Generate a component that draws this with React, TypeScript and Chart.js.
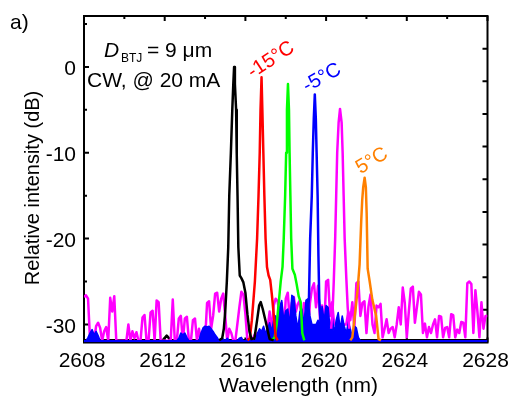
import { useEffect, useRef } from "react";
import { Chart, registerables } from "chart.js";

Chart.register(...registerables);

const FONT = '"Liberation Sans", Arial, Helvetica, sans-serif';

// Axis ranges and ticks
const xMin = 2608;
const xMax = 2628;
const yMin = -32.1;
const yMax = 5.93;
const xTickLabels = [2608, 2612, 2616, 2620, 2624, 2628];
const xMinorTicks = [2610, 2614, 2618, 2622, 2626];
const yTickLabels = [0, -10, -20, -30];
const yMinorTicks = [5, -5, -15, -25];
const rightTicks = [1, 2, 3, 4, 5, 6, 7, 8, 9];

// Spectra: wavelength (nm) / relative intensity (dB)
const blackPeakWl = [2614.7, 2614.85, 2614.93, 2615.0, 2615.08, 2615.15, 2615.2, 2615.28, 2615.35, 2615.4, 2615.44, 2615.48, 2615.54, 2615.57, 2615.61, 2615.65, 2615.72, 2615.8, 2615.9, 2616.0, 2616.1, 2616.2, 2616.3, 2616.45, 2616.58, 2616.68, 2616.76, 2616.86, 2617.0, 2617.2, 2617.4];
const blackPeakDb = [-31.85, -31.6, -30.5, -28.5, -25.0, -21.0, -15.0, -10.0, -5.0, -2.0, 0.0, -2.0, -5.0, -10.0, -15.0, -21.0, -24.3, -24.6, -25.1, -26.3, -28.8, -30.8, -31.7, -31.6, -29.5, -27.8, -27.4, -28.2, -29.6, -31.7, -31.85];
const blackBaseWl = [2608, 2611.9, 2612.1, 2612.3, 2628];
const blackBaseDb = [-31.85, -31.85, -31.3, -31.85, -31.85];

const redWl = [2616.1, 2616.22, 2616.32, 2616.47, 2616.58, 2616.65, 2616.71, 2616.75, 2616.8, 2616.84, 2616.89, 2616.94, 2617.0, 2617.07, 2617.15, 2617.23, 2617.31, 2617.41, 2617.5, 2617.6];
const redDb = [-31.85, -31.6, -29.5, -25.0, -20.0, -15.0, -10.0, -5.0, -1.2, -5.0, -10.0, -15.0, -20.0, -23.3, -24.3, -24.8, -26.5, -29.0, -31.4, -31.85];

const greenWl = [2617.3, 2617.45, 2617.55, 2617.62, 2617.75, 2617.84, 2617.9, 2617.97, 2618.02, 2618.06, 2618.11, 2618.16, 2618.19, 2618.23, 2618.27, 2618.33, 2618.45, 2618.54, 2618.64, 2618.74, 2618.82, 2618.92];
const greenDb = [-31.85, -31.5, -30.0, -28.3, -25.0, -23.3, -20.0, -15.0, -10.0, -5.0, -2.0, -5.0, -10.0, -15.0, -20.0, -23.5, -24.2, -25.3, -26.7, -27.4, -31.0, -31.85];

const bluePeakWl = [2618.98, 2619.09, 2619.15, 2619.21, 2619.29, 2619.34, 2619.39, 2619.44, 2619.49, 2619.53, 2619.58, 2619.62, 2619.66, 2619.73, 2619.8];
const bluePeakDb = [-31.0, -29.0, -27.0, -20.0, -15.0, -10.0, -6.0, -3.2, -6.0, -10.0, -15.0, -22.0, -27.0, -30.0, -31.5];

const magentaPeakWl = [2620.25, 2620.33, 2620.38, 2620.45, 2620.5, 2620.55, 2620.62, 2620.69, 2620.77, 2620.82, 2620.87, 2620.92, 2621.0, 2621.07, 2621.15];
const magentaPeakDb = [-30.5, -28.0, -25.0, -20.0, -15.0, -10.0, -6.5, -4.9, -6.5, -10.0, -15.0, -20.0, -24.5, -28.0, -30.5];

const orangeWl = [2621.2, 2621.3, 2621.47, 2621.56, 2621.66, 2621.74, 2621.79, 2621.84, 2621.91, 2621.97, 2622.01, 2622.06, 2622.16, 2622.29, 2622.48, 2622.6, 2622.72];
const orangeDb = [-31.85, -31.5, -28.0, -26.0, -23.0, -18.0, -15.5, -14.0, -12.9, -14.0, -17.0, -23.5, -25.0, -27.1, -29.0, -31.7, -31.85];

// Noise floors sampled every 0.1 nm from 2608.0 nm
const noiseStart = 2608.0;
const noiseStep = 0.1;
const magentaNoiseDb = [
  -26.8, -26.6, -27.0, -31.8, -30.8, -31.9, -30.2, -29.8, -30.4, -31.9,
  -30.8, -30.3, -31.9, -26.9, -28.5, -26.7, -31.9, -31.9, -31.9, -31.9,
  -31.9, -31.9, -30.0, -31.9, -30.8, -31.6, -30.9, -31.9, -31.9, -29.2,
  -28.9, -31.9, -31.9, -28.6, -28.4, -31.9, -27.2, -27.4, -31.9, -31.9,
  -31.9, -31.9, -31.9, -31.8, -27.1, -31.9, -31.9, -29.3, -29.0, -31.9,
  -29.3, -29.1, -31.9, -31.9, -29.5, -29.3, -31.9, -30.5, -31.9, -31.9,
  -31.9, -27.5, -27.3, -30.5, -29.0, -26.4, -26.3, -28.5, -27.0, -26.4,
  -29.0, -31.9, -30.5, -31.0, -31.9, -31.9, -30.0, -28.0, -26.2, -26.5,
  -28.8, -31.9, -31.9, -31.9, -31.5, -31.0, -31.7, -30.9, -31.9, -31.9,
  -31.5, -30.5, -28.5, -31.0, -27.8, -27.0, -27.3, -29.0, -27.5, -31.0,
  -27.0, -26.3, -29.5, -27.5, -26.8, -28.5, -27.6, -27.2, -30.0, -27.5,
  -28.0, -31.0, -27.5, -25.8, -25.2, -28.0, -25.5, -29.5, -27.8, -31.0,
  -25.0, -24.8, -29.0, -27.4, -30.0, -30.0, -30.0, -30.0, -30.0, -30.0,
  -30.0, -28.5, -29.5, -27.4, -30.5, -25.2, -25.0, -29.0, -27.5, -27.3,
  -31.0, -27.9, -26.5, -30.0, -31.0, -27.8, -28.0, -27.6, -31.5, -30.5,
  -29.4, -31.0, -30.5, -30.3, -31.5, -30.0, -28.0, -30.0, -25.7, -27.5,
  -31.5, -28.5, -25.8, -25.6, -29.8, -28.0, -26.2, -26.5, -31.0, -29.9,
  -31.5, -30.3, -31.0, -30.0, -29.4, -31.5, -29.0, -29.1, -31.5, -30.4,
  -30.3, -31.5, -28.8, -28.9, -31.5, -30.6, -31.0, -29.7, -29.8, -31.5,
  -25.2, -25.0, -25.3, -31.0, -26.0, -28.5, -31.5, -27.4, -30.5, -29.0,
  -29.0,
];
const blueNoiseDb = [
  -31.9, -31.9, -31.5, -31.0, -30.6, -31.2, -30.8, -31.3, -31.9, -31.9,
  -31.9, -31.9, -31.9, -31.9, -31.9, -31.9, -31.9, -31.9, -31.9, -31.9,
  -31.9, -31.9, -31.9, -31.9, -31.9, -31.9, -31.9, -31.9, -31.9, -31.9,
  -31.9, -31.9, -31.9, -31.9, -31.9, -31.9, -31.9, -31.9, -31.9, -31.9,
  -31.9, -31.9, -31.9, -31.9, -31.9, -31.9, -31.9, -31.6, -31.0, -31.2,
  -31.0, -31.5, -31.9, -31.9, -31.9, -31.9, -31.9, -31.9, -31.0, -30.4,
  -30.2, -30.3, -30.2, -30.5, -30.8, -31.2, -31.5, -31.9, -31.9, -31.7,
  -31.9, -31.6, -31.9, -31.9, -31.9, -31.9, -31.9, -31.6, -31.5, -31.9,
  -31.9, -31.7, -31.9, -31.9, -31.9, -31.9, -31.0, -30.5, -30.8, -30.2,
  -31.0, -30.5, -29.8, -30.8, -29.5, -29.0, -30.5, -28.0, -27.2, -29.5,
  -28.4, -28.2, -30.0, -26.6, -26.8, -29.0, -30.5, -28.5, -28.2, -30.0,
  -27.2, -27.0, -29.0, -30.0, -30.0, -30.0, -29.5, -30.0, -27.9, -29.5,
  -27.8, -28.0, -30.5, -29.0, -31.0, -29.5, -28.6, -30.5, -29.0, -30.2,
  -31.0, -29.7, -30.5, -31.5, -30.2, -30.4, -31.5, -31.9, -31.9, -31.9,
  -31.9, -31.9, -31.9, -31.9, -31.9, -31.9, -31.9, -31.9, -31.9, -31.9,
  -31.9, -31.9, -31.9, -31.9, -31.9, -31.9, -31.9, -31.9, -31.9, -31.9,
  -31.9, -31.9, -31.9, -31.9, -31.9, -31.9, -31.9, -31.9, -31.9, -31.9,
  -31.9, -31.9, -31.9, -31.9, -31.9, -31.9, -31.9, -31.9, -31.9, -31.9,
  -31.9, -31.9, -31.9, -31.9, -31.9, -31.9, -31.9, -31.9, -31.9, -31.9,
  -31.9, -31.9, -31.9, -31.9, -31.9, -31.9, -31.9, -31.9, -31.9, -31.9,
  -31.9,
];

const BLACK = "#000000";
const RED = "#ff0000";
const GREEN = "#00ff00";
const BLUE = "#0000ff";
const MAGENTA = "#ff00ff";
const ORANGE = "#ff8000";

function zip(wl: number[], db: number[]) {
  return wl.map((x, i) => ({ x, y: db[i] }));
}
function grid(db: number[]) {
  return db.map((y, i) => ({ x: Math.round((noiseStart + i * noiseStep) * 100) / 100, y }));
}

function line(data: { x: number; y: number }[], color: string, order: number, extra: any = {}) {
  return {
    data,
    showLine: true,
    borderColor: color,
    backgroundColor: color,
    borderWidth: 2.5,
    pointRadius: 0,
    tension: 0,
    borderJoinStyle: "round",
    order,
    ...extra,
  };
}

const decor = {
  id: "decor",
  beforeDatasetsDraw(chart: any) {
    const { ctx, chartArea: a, scales } = chart;
    const x = scales.x;
    const y = scales.y;
    const y2 = scales.y2;
    ctx.save();
    ctx.strokeStyle = "#000";
    ctx.lineWidth = 2;
    ctx.strokeRect(a.left, a.top, a.right - a.left, a.bottom - a.top);
    ctx.lineWidth = 2;
    ctx.beginPath();
    for (const v of xTickLabels) {
      const px = x.getPixelForValue(v);
      ctx.moveTo(px, a.top);
      ctx.lineTo(px, a.top + 5);
      ctx.moveTo(px, a.bottom);
      ctx.lineTo(px, a.bottom - 5);
    }
    for (const v of xMinorTicks) {
      const px = x.getPixelForValue(v);
      ctx.moveTo(px, a.top);
      ctx.lineTo(px, a.top + 3);
      ctx.moveTo(px, a.bottom);
      ctx.lineTo(px, a.bottom - 3);
    }
    for (const v of yTickLabels) {
      const py = y.getPixelForValue(v);
      ctx.moveTo(a.left, py);
      ctx.lineTo(a.left + 5, py);
    }
    for (const v of yMinorTicks) {
      const py = y.getPixelForValue(v);
      ctx.moveTo(a.left, py);
      ctx.lineTo(a.left + 3, py);
    }
    for (const v of rightTicks) {
      const py = y2.getPixelForValue(v);
      ctx.moveTo(a.right, py);
      ctx.lineTo(a.right - 5, py);
    }
    ctx.stroke();
    ctx.restore();
  },
  afterDraw(chart: any) {
    const { ctx, chartArea: a, scales } = chart;
    const x = scales.x;
    const y = scales.y;
    ctx.save();
    ctx.fillStyle = "#000";
    ctx.font = `21px ${FONT}`;
    ctx.textBaseline = "alphabetic";
    ctx.textAlign = "center";
    for (const v of xTickLabels) {
      ctx.fillText(String(v), x.getPixelForValue(v) - 2, a.bottom + 24.5);
    }
    ctx.textAlign = "right";
    for (const v of yTickLabels) {
      ctx.fillText(String(v), a.left - 8, y.getPixelForValue(v) + 8.5);
    }
    // axis titles
    ctx.textAlign = "center";
    ctx.fillText("Wavelength (nm)", 298.5, 392);
    ctx.save();
    ctx.translate(38.5, 188);
    ctx.rotate(-Math.PI / 2);
    ctx.font = `20px ${FONT}`;
    ctx.fillText("Relative intensity (dB)", 0, 0);
    ctx.restore();

    // panel label
    ctx.textAlign = "left";
    ctx.font = `21px ${FONT}`;
    ctx.fillText("a)", 10, 28.5);

    // annotations
    ctx.font = `italic 21px ${FONT}`;
    ctx.fillText("D", 104, 57);
    ctx.font = `12px ${FONT}`;
    ctx.fillText("BTJ", 121, 62);
    ctx.font = `21px ${FONT}`;
    ctx.fillText("= 9 μm", 147, 57);
    ctx.fillText("CW, @ 20 mA", 87, 86.5);

    const rot = (text: string, cx: number, cy: number, deg: number, color: string) => {
      ctx.save();
      ctx.translate(cx, cy);
      ctx.rotate((deg * Math.PI) / 180);
      ctx.fillStyle = color;
      ctx.font = `20px ${FONT}`;
      ctx.textAlign = "center";
      ctx.textBaseline = "middle";
      ctx.fillText(text, 0, 0);
      ctx.restore();
    };
    rot("-15°C", 271, 60, -33, RED);
    rot("-5°C", 322, 78, -29, BLUE);
    rot("5°C", 372, 161, -31, ORANGE);
    ctx.restore();
  },
};

export default function App() {
  const ref = useRef<HTMLCanvasElement | null>(null);
  useEffect(() => {
    if (!ref.current) return;
    const chart = new Chart(ref.current, {
      type: "scatter",
      data: {
        datasets: [
          line(zip(orangeWl, orangeDb), ORANGE, 1),
          line(zip(blackPeakWl, blackPeakDb), BLACK, 2),
          line(zip(redWl, redDb), RED, 3),
          line(zip(greenWl, greenDb), GREEN, 4),
          line(zip(bluePeakWl, bluePeakDb), BLUE, 5),
          line(zip(magentaPeakWl, magentaPeakDb), MAGENTA, 6),
          line(grid(blueNoiseDb), BLUE, 7, { fill: "start", borderWidth: 1.5 }),
          line(grid(magentaNoiseDb), MAGENTA, 8),
          line(zip(blackBaseWl, blackBaseDb), BLACK, 9),
        ] as any,
      },
      options: {
        animation: false,
        responsive: false,
        events: [],
        layout: { padding: { left: 84, right: 24.5, top: 16, bottom: 58.5 } },
        plugins: { legend: { display: false }, tooltip: { enabled: false } },
        scales: {
          x: { type: "linear", min: xMin, max: xMax, display: false },
          y: { type: "linear", min: yMin, max: yMax, display: false },
          y2: { type: "linear", position: "right", min: 0, max: 10, display: false },
        },
      } as any,
      plugins: [decor],
    });
    return () => chart.destroy();
  }, []);
  return (
    <div style={{ position: "fixed", left: 0, top: 0, width: 512, height: 401, background: "#fff" }}>
      <canvas ref={ref} width={512} height={401} style={{ display: "block" }} />
    </div>
  );
}
